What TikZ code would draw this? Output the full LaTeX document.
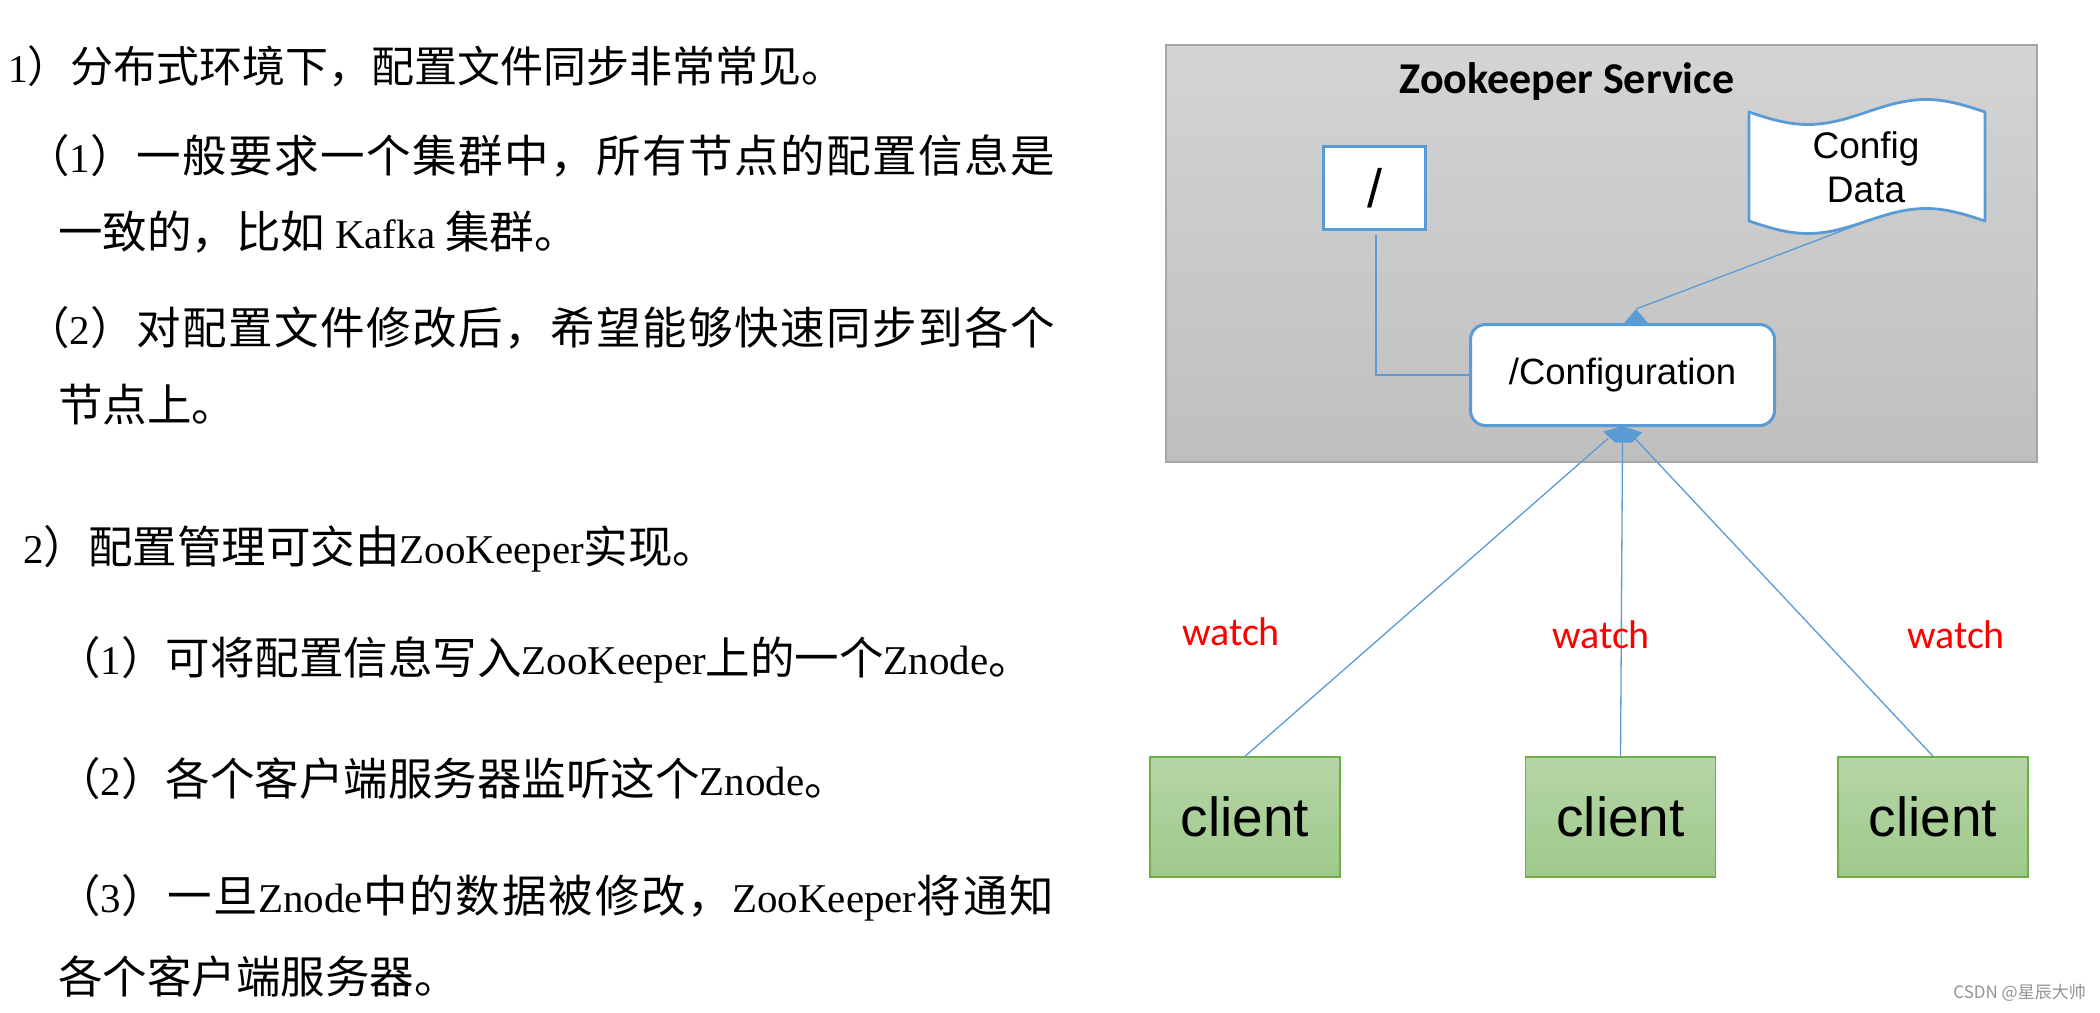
\documentclass[tikz,border=0pt]{standalone}
\usepackage{fontspec}
\setmainfont{Liberation Serif}
\newfontfamily\cjfont{Noto Sans CJK SC}
\newfontfamily\cjwide{Noto Sans CJK SC}[LetterSpace=3.4]
\newfontfamily\cjwideb{Noto Sans CJK SC}[LetterSpace=4.3]
\newfontfamily\latfont{Liberation Serif}[Scale=0.92]
\newfontfamily\arfont{Liberation Sans}
\newfontfamily\carfont{Carlito}
\usetikzlibrary{calc}
\definecolor{zkblue}{HTML}{5B9BD5}
\definecolor{svctop}{HTML}{D4D4D4}
\definecolor{svcbot}{HTML}{BFBFBF}
\definecolor{svcline}{HTML}{A6A6A6}
\definecolor{cltop}{HTML}{B5D6A7}
\definecolor{clbot}{HTML}{9FC98B}
\definecolor{clline}{HTML}{70AD47}
\tikzset{
  txt/.style={inner sep=0pt, anchor=base west, font=\cjfont\fontsize{44.5}{50}\selectfont},
  txtw/.style={txt, font=\cjwide\fontsize{44.5}{50}\selectfont},
  txtwb/.style={txt, font=\cjwideb\fontsize{44.5}{50}\selectfont},
  conn/.style={draw=zkblue, line width=1.3pt},
  svcbox/.style={draw=svcline, line width=2pt, top color=svctop, bottom color=svcbot, minimum width=871pt, minimum height=417pt, inner sep=0pt},
  slashbox/.style={draw=zkblue, line width=3pt, fill=white, minimum width=102pt, minimum height=83pt, inner sep=0pt, font=\arfont\fontsize{54}{58}\selectfont},
  confbox/.style={draw=zkblue, line width=3pt, fill=white, rounded corners=15pt, minimum width=304pt, minimum height=101pt, inner sep=0pt, font=\arfont\fontsize{36.5}{40}\selectfont},
  cfgtext/.style={anchor=base, inner sep=0pt, font=\arfont\fontsize{37}{42}\selectfont},
  clientbox/.style={draw=clline, line width=1.5pt, top color=cltop, bottom color=clbot, minimum width=190pt, minimum height=120pt, inner sep=0pt, font=\arfont\fontsize{55}{60}\selectfont},
  watchlbl/.style={text=red, anchor=base, inner sep=0pt, font=\carfont\fontsize{40}{44}\selectfont},
}
\begin{document}
\begin{tikzpicture}[x=1pt,y=-1pt]
\fill[white] (0,0) rectangle (2100,1012);
\useasboundingbox (0,0) rectangle (2100,1012);

% ---------- left text ----------
\node[txt, font=\cjfont\fontsize{43}{48}\selectfont] (l1) at (8,82) {{\latfont 1}）分布式环境下，配置文件同步非常常见。};
\node[txtw] (l2) at (25,172) {（{\latfont 1}）一般要求一个集群中，所有节点的配置信息是};
\node[txt] (l3) at (58,248) {一致的，比如 {\latfont Kafka} 集群。};
\node[txtw] (l4) at (25,344) {（{\latfont 2}）对配置文件修改后，希望能够快速同步到各个};
\node[txt] (l5) at (58,421) {节点上。};
\node[txt] (l6) at (23,563) {{\latfont 2}）配置管理可交由{\latfont ZooKeeper}实现。};
\node[txt] (l7) at (56,674) {（{\latfont 1}）可将配置信息写入{\latfont ZooKeeper}上的一个{\latfont Znode}。};
\node[txt] (l8) at (56,795) {（{\latfont 2}）各个客户端服务器监听这个{\latfont Znode}。};
\node[txtwb] (l9) at (56,912) {（{\latfont 3}）一旦{\latfont Znode}中的数据被修改，{\latfont ZooKeeper}将通知};
\node[txt] (l10) at (58,993) {各个客户端服务器。};

% ---------- Zookeeper service ----------
\node[svcbox] (svc) at (1601.5,253.5) {};
\node[anchor=base, inner sep=0pt, font=\carfont\bfseries\fontsize{44}{48}\selectfont] (title) at (1567,93) {Zookeeper Service};

\node[slashbox] (slash) at (1374.5,188) {/};
\node[confbox] (conf) at (1622.5,375) {/Configuration};

% Config Data tape
\draw[draw=zkblue, line width=2.8pt, fill=white, line join=round]
  plot[domain=0:360, samples=73] ({1749+(\x/360)*236}, {112+12.5*sin(\x)})
  -- plot[domain=360:0, samples=73] ({1749+(\x/360)*236}, {221+12.5*sin(\x)}) -- cycle;
\node[cfgtext] (cfg1) at (1866,158) {Config};
\node[cfgtext] (cfg2) at (1866,202) {Data};
\coordinate (cfgbot) at (1865,222);

% connectors inside service
\draw[conn] ([xshift=1.5pt,yshift=-4pt]slash.south) |- (conf.west);
\coordinate (cfgtip) at ($(conf.north)+(13.5,-14)$);
\draw[conn] (cfgbot) -- (cfgtip);
\fill[zkblue] (cfgtip) -- ++(-12.5,15) -- ++(25,0) -- cycle;

% ---------- clients ----------
\node[clientbox] (c1) at (1245,817) {client};
\node[clientbox] (c2) at (1620.5,817) {client};
\node[clientbox] (c3) at (1933,817) {client};

\draw[conn] (c1.north) -- ([xshift=-14.5pt,yshift=-11.5pt]conf.south);
\draw[conn] (c2.north) -- ([yshift=-16pt]conf.south);
\draw[conn] (c3.north) -- ([xshift=12.5pt,yshift=-11.5pt]conf.south);
\fill[zkblue] ([yshift=1pt]conf.south) -- ([xshift=19.5pt,yshift=-5.5pt]conf.south)
  -- ([xshift=9.5pt,yshift=-15.5pt]conf.south) -- ([xshift=-7.5pt,yshift=-15.5pt]conf.south)
  -- ([xshift=-19.5pt,yshift=-4.5pt]conf.south) -- cycle;

\node[watchlbl] (w1) at (1231,645) {watch};
\node[watchlbl] (w2) at (1601,648) {watch};
\node[watchlbl] (w3) at (1956,648) {watch};

% watermark
\node[anchor=base east, inner sep=0pt, text=black!42, font=\cjfont\fontsize{17}{19}\selectfont] (wm) at (2086,998) {CSDN @星辰大帅};
\end{tikzpicture}
\end{document}
